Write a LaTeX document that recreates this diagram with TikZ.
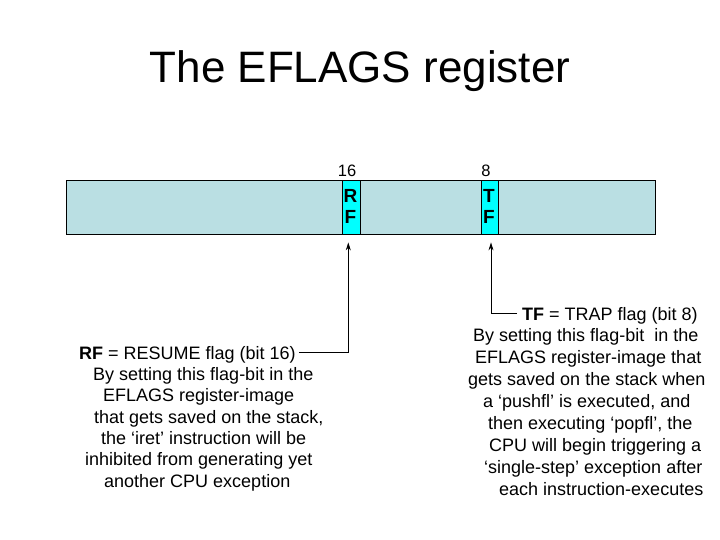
\documentclass[tikz,border=0pt]{standalone}
\usepackage{fontspec}
\setmainfont{Liberation Sans}
\definecolor{barfill}{RGB}{186,223,227}
\definecolor{cellfill}{RGB}{0,255,255}
\tikzset{
  txt/.style={anchor=base west, inner sep=0pt, font=\fontsize{18}{21}\selectfont},
  bitlbl/.style={anchor=base, inner sep=0pt, font=\fontsize{16.5}{19}\selectfont},
  celltxt/.style={anchor=center, inner sep=0pt, font=\bfseries\fontsize{19}{20}\selectfont},
  conn/.style={line width=1pt},
  arr/.style={conn, -{Stealth[length=8pt,width=5pt]}}
}
\usetikzlibrary{arrows.meta}
\begin{document}
\begin{tikzpicture}[x=1pt,y=-1pt]
\useasboundingbox (0,0) rectangle (720,540);
\node[anchor=base, inner sep=0pt, font=\fontsize{44}{50}\selectfont] (title) at (360,83) {The EFLAGS register};
% register bar
\draw[fill=barfill, line width=0.8pt] (66,180.5) rectangle (655,234);
\node[draw, fill=cellfill, line width=0.8pt, minimum width=17.5pt, minimum height=53.5pt, inner sep=0pt] (rf) at (351.3,207.25) {};
\node[draw, fill=cellfill, line width=0.8pt, minimum width=17pt, minimum height=53.5pt, inner sep=0pt] (tf) at (489.5,207.25) {};
\node[celltxt] (rfR) at (350.5,196) {R};
\node[celltxt] (rfF) at (350.3,217) {F};
\node[celltxt] (tfT) at (489,196) {T};
\node[celltxt] (tfF) at (489,217) {F};
\node[bitlbl] (b16) at (347,177) {16};
\node[bitlbl] (b8) at (486,177) {8};
% left text
\node[txt] (l1) at (79,359) {\textbf{RF} = RESUME flag (bit 16)};
\node[txt] (l2) at (93,380.3) {By setting this flag-bit in the};
\node[txt] (l3) at (103,401.6) {EFLAGS register-image};
\node[txt] (l4) at (94,423) {that gets saved on the stack,};
\node[txt] (l5) at (101,444.3) {the ‘iret’ instruction will be};
\node[txt] (l6) at (85,465.6) {inhibited from generating yet};
\node[txt] (l7) at (104,487) {another CPU exception};
% right text
\node[txt] (r1) at (522,320) {\textbf{TF} = TRAP flag (bit 8)};
\node[txt] (r2) at (473,341.9) {By setting this flag-bit\ \ in the};
\node[txt] (r3) at (475,363.8) {EFLAGS register-image that};
\node[txt] (r4) at (468,385.6) {gets saved on the stack when};
\node[txt] (r5) at (483,407.5) {a ‘pushfl’ is executed, and};
\node[txt] (r6) at (488,429.4) {then executing ‘popfl’, the};
\node[txt] (r7) at (489,451.2) {CPU will begin triggering a};
\node[txt] (r8) at (484,473.1) {‘single-step’ exception after};
\node[txt] (r9) at (499,495) {each instruction-executes};
% connectors
\coordinate (rfc) at ([xshift=-3pt]rf.south |- l1.east);
\draw[arr] ([xshift=3pt,yshift=2pt]l1.east) -- ([yshift=2pt]rfc) -- ([xshift=-3pt,yshift=-8pt]rf.south);
\coordinate (tfc) at ([xshift=1.5pt]tf.south |- r1.west);
\draw[arr] ([xshift=-5pt,yshift=2pt]r1.west) -- ([yshift=2pt]tfc) -- ([xshift=1.5pt,yshift=-8pt]tf.south);
\end{tikzpicture}
\end{document}
